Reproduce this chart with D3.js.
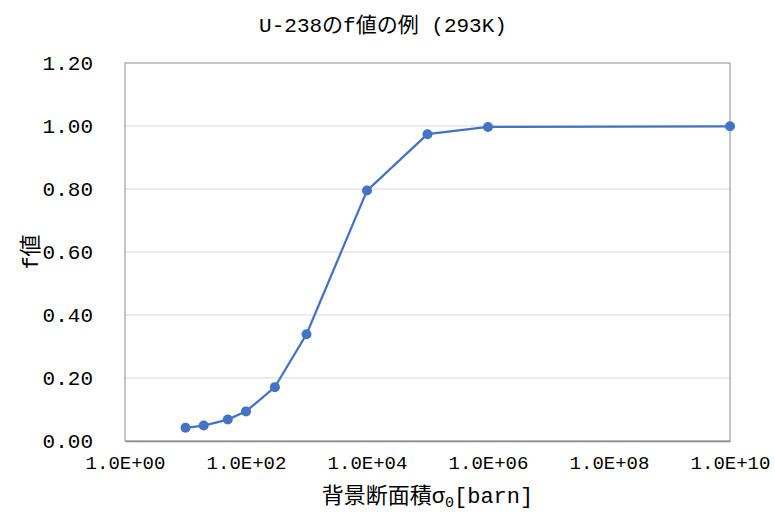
<!DOCTYPE html>
<html>
<head>
<meta charset="utf-8">
<script src="https://cdn.jsdelivr.net/npm/d3@7"></script>
<style>
  body { margin: 0; background: #fff; }
  text { font-family: "Liberation Mono", "Noto Sans CJK JP", monospace; fill: #000; }
</style>
</head>
<body>
<script>
// Data
const sigma0 = [10, 20, 50, 100, 300, 1000, 1e4, 1e5, 1e6, 1e10];
const fValues = [0.042, 0.049, 0.068, 0.094, 0.171, 0.339, 0.795, 0.974, 0.997, 0.999];
const xTicks = [1e0, 1e2, 1e4, 1e6, 1e8, 1e10];
const yTicks = [0, 0.2, 0.4, 0.6, 0.8, 1.0, 1.2];

const W = 775, H = 513;
const margin = { top: 63, right: 45, bottom: 72, left: 125 };
const width = W - margin.left - margin.right;
const height = H - margin.top - margin.bottom;

const svg = d3.select("body").append("svg")
  .attr("width", W).attr("height", H);

const g = svg.append("g")
  .attr("transform", `translate(${margin.left},${margin.top})`);

// Scales
const x = d3.scaleLog().domain([1, 1e10]).range([0, width]);
const y = d3.scaleLinear().domain([0, 1.2]).range([height, 0]);

// Gridlines
g.selectAll(".grid")
  .data(yTicks.slice(1, -1))
  .enter().append("line")
  .attr("x1", 0).attr("x2", width)
  .attr("y1", d => y(d)).attr("y2", d => y(d))
  .attr("stroke", "#d9d9d9").attr("stroke-width", 1);

// Plot border
g.append("rect")
  .attr("x", 0).attr("y", 0)
  .attr("width", width).attr("height", height)
  .attr("fill", "none").attr("stroke", "#8c8c8c").attr("stroke-width", 1);

// Axes
const fmtExp = d => {
  const e = Math.round(Math.log10(d));
  return "1.0E+" + String(e).padStart(2, "0");
};

const xAxis = g.append("g")
  .attr("transform", `translate(0,${height})`)
  .call(d3.axisBottom(x).tickValues(xTicks).tickFormat(fmtExp).tickSize(0).tickPadding(15));
xAxis.select(".domain").attr("stroke", "#8c8c8c").attr("stroke-width", 1.5);
xAxis.selectAll("text").style("font-size", "19px")
  .style("font-family", "'Liberation Mono', monospace");

const yAxis = g.append("g")
  .call(d3.axisLeft(y).tickValues(yTicks).tickFormat(d3.format(".2f")).tickSize(0).tickPadding(32));
yAxis.select(".domain").remove();
yAxis.selectAll("text").style("font-size", "21px")
  .style("font-family", "'Liberation Mono', monospace");

// Line
const pts = sigma0.map((s, i) => ({ s, f: fValues[i] }));
g.append("path")
  .datum(pts)
  .attr("fill", "none")
  .attr("stroke", "#4472c4")
  .attr("stroke-width", 2.25)
  .attr("d", d3.line().x(d => x(d.s)).y(d => y(d.f)));

g.selectAll(".pt")
  .data(pts)
  .enter().append("circle")
  .attr("cx", d => x(d.s)).attr("cy", d => y(d.f))
  .attr("r", 5)
  .attr("fill", "#4472c4");

// Title
svg.append("text")
  .attr("x", 383).attr("y", 32)
  .attr("text-anchor", "middle")
  .style("font-size", "21px")
  .text("U-238のf値の例 (293K)");

// Y label
svg.append("text")
  .attr("transform", "translate(38,252) rotate(-90)")
  .attr("text-anchor", "middle")
  .style("font-size", "22px")
  .text("f値");

// X label
const xl = svg.append("text")
  .attr("x", margin.left + width / 2).attr("y", 503)
  .attr("text-anchor", "middle")
  .style("font-size", "22px");
xl.append("tspan").text("背景断面積σ");
xl.append("tspan").attr("dy", 4).style("font-size", "15px").text("0");
xl.append("tspan").attr("dy", -4).text("[barn]");
</script>
</body>
</html>
